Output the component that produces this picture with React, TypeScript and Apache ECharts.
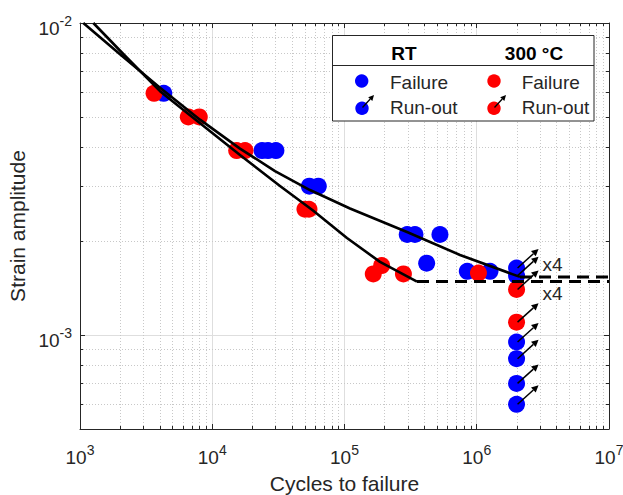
import React, { useEffect, useRef } from 'react';
import * as echarts from 'echarts';

// ---------- data ----------
const rtFailN = [4300, 23800, 26400, 30300, 54200, 63400, 298000, 341000, 527000, 418000, 848000, 1260000];
const rtFailS = [5.95e-3, 3.9e-3, 3.9e-3, 3.9e-3, 3.0e-3, 3.0e-3, 2.1e-3, 2.1e-3, 2.1e-3, 1.7e-3, 1.6e-3, 1.6e-3];

const htFailN = [3630, 6590, 7980, 15300, 17700, 50200, 53900, 165000, 191000, 279000, 1030000];
const htFailS = [5.95e-3, 5.0e-3, 5.0e-3, 3.9e-3, 3.9e-3, 2.53e-3, 2.53e-3, 1.57e-3, 1.67e-3, 1.57e-3, 1.58e-3];

const rtRunN = [2e6, 2e6, 2e6, 2e6, 2e6, 2e6];
const rtRunS = [1.64e-3, 1.55e-3, 9.5e-4, 8.4e-4, 7.0e-4, 6.0e-4];

const htRunN = [2e6, 2e6];
const htRunS = [1.4e-3, 1.1e-3];

// fitted strain-life curves
const rtCurveN = [1059, 2007, 4027, 8078, 16210, 29820, 54830, 110040, 296900, 746900, 2123000];
const rtCurveS = [1.0e-2, 7.94e-3, 6.205e-3, 4.901e-3, 3.959e-3, 3.354e-3, 2.916e-3, 2.544e-3, 2.14e-3, 1.806e-3, 1.536e-3];
const htCurveN = [1261, 2189, 4027, 6787, 16210, 32530, 57790, 104400, 185500, 353400];
const htCurveS = [1.0e-2, 7.853e-3, 6.047e-3, 5.066e-3, 3.773e-3, 3.003e-3, 2.507e-3, 2.047e-3, 1.716e-3, 1.484e-3];

// endurance limits (dashed)
const rtLimitN = [2123000, 1e7];
const rtLimitS = [1.536e-3, 1.536e-3];
const htLimitN = [353400, 1e7];
const htLimitS = [1.484e-3, 1.484e-3];

// multiplicity labels
const countN = [2e6, 2e6];
const countS = [1.64e-3, 1.4e-3];
const countText = ['x4', 'x4'];

// axis ranges / ticks
const X_MIN = 1e3;
const X_MAX = 1e7;
const Y_MIN = 5e-4;
const Y_MAX = 1e-2;
const xDecades = [1e3, 1e4, 1e5, 1e6];
const yDecades = [1e-4, 1e-3];
const minorMult = [2, 3, 4, 5, 6, 7, 8, 9];

// ---------- style ----------
const FONT = "'Liberation Sans', Arial, Helvetica, sans-serif";
const INK = '#262626';
const BLUE = '#0000ff';
const RED = '#ff0000';

const zip = (a: number[], b: number[]) => a.map((v, i) => [v, b[i]]);

const xMinor: number[] = [];
xDecades.forEach((d) => minorMult.forEach((m) => xMinor.push(d * m)));
const yMinor: number[] = [];
yDecades.forEach((d) => minorMult.forEach((m) => {
  const v = d * m;
  if (v > Y_MIN * 1.0001 && v < Y_MAX * 0.9999) yMinor.push(v);
}));

function supLabel(v: number) {
  const e = Math.log10(v);
  const r = Math.round(e);
  if (Math.abs(e - r) > 1e-6) return '';
  return `{b|10}{s|${r}}`;
}

const rich = {
  b: { fontSize: 19, lineHeight: 24, verticalAlign: 'bottom', fontFamily: FONT, color: INK },
  s: { fontSize: 14, lineHeight: 12, verticalAlign: 'top', fontFamily: FONT, color: INK },
};

function arrowChildren(x0: number, y0: number, dx: number, dy: number, head: number, hw: number, lw: number) {
  const L = Math.sqrt(dx * dx + dy * dy);
  const ux = dx / L;
  const uy = dy / L;
  const tx = x0 + dx;
  const ty = y0 + dy;
  const bx = tx - ux * head;
  const by = ty - uy * head;
  const px = -uy;
  const py = ux;
  return [
    { type: 'line', shape: { x1: x0, y1: y0, x2: bx, y2: by }, style: { stroke: '#000', lineWidth: lw } },
    {
      type: 'polygon',
      shape: { points: [[tx, ty], [bx + px * hw, by + py * hw], [bx - px * hw, by - py * hw]] },
      style: { fill: '#000' },
    },
  ];
}

export default function App() {
  const ref = useRef<HTMLDivElement>(null);

  useEffect(() => {
    if (!ref.current) return;
    const chart = echarts.init(ref.current, null, { renderer: 'svg' });

    const baseX = {
      type: 'log',
      logBase: 10,
      min: X_MIN,
      max: X_MAX,
      axisLine: { show: true, lineStyle: { color: INK, width: 1 } },
      axisTick: { show: true, inside: true, length: 5, lineStyle: { color: INK, width: 1 } },
    };
    const baseY = {
      type: 'log',
      logBase: 10,
      min: Y_MIN,
      max: Y_MAX,
      axisLine: { show: true, lineStyle: { color: INK, width: 1 } },
      axisTick: { show: true, inside: true, length: 5, lineStyle: { color: INK, width: 1 } },
    };

    const scatterBase = {
      type: 'scatter',
      symbol: 'circle',
      symbolSize: 17,
      silent: true,
      emphasis: { disabled: true },
    };

    const textStyle = (align: string) => ({
      font: `19px ${FONT}`,
      fill: INK,
      textAlign: align,
      align,
      textVerticalAlign: 'middle',
      verticalAlign: 'middle',
    });

    const curveBase = {
      type: 'line',
      z: 5,
      silent: true,
      symbol: 'none',
      showSymbol: false,
      smooth: false,
    };

    const legendChildren: any[] = [
      { type: 'rect', shape: { x: 332.5, y: 35.5, width: 261.5, height: 85.5 }, style: { fill: '#ffffff', stroke: INK, lineWidth: 1 } },
      { type: 'line', shape: { x1: 332.5, y1: 65.5, x2: 594, y2: 65.5 }, style: { stroke: INK, lineWidth: 1 } },
      { type: 'text', x: 404, y: 53, style: { text: 'RT', ...textStyle('center'), font: `bold 19px ${FONT}`, fill: '#000' } },
      { type: 'text', x: 534, y: 53, style: { text: '300 °C', ...textStyle('center'), font: `bold 19px ${FONT}`, fill: '#000' } },
      { type: 'circle', shape: { cx: 361.7, cy: 81, r: 6.7 }, style: { fill: BLUE } },
      { type: 'circle', shape: { cx: 362, cy: 108.3, r: 6.7 }, style: { fill: BLUE } },
      { type: 'circle', shape: { cx: 494, cy: 81, r: 6.7 }, style: { fill: RED } },
      { type: 'circle', shape: { cx: 494, cy: 108.3, r: 6.7 }, style: { fill: RED } },
      ...arrowChildren(362.5, 107.5, 11.5, -12.5, 5.5, 2.8, 1.3),
      ...arrowChildren(494.5, 107.5, 11.5, -12.5, 5.5, 2.8, 1.3),
      { type: 'text', x: 390, y: 82.5, style: { text: 'Failure', ...textStyle('left') } },
      { type: 'text', x: 390, y: 107.5, style: { text: 'Run-out', ...textStyle('left') } },
      { type: 'text', x: 521.7, y: 82.5, style: { text: 'Failure', ...textStyle('left') } },
      { type: 'text', x: 521.7, y: 107.5, style: { text: 'Run-out', ...textStyle('left') } },
    ].map((el, i) => ({ ...el, z: 100 + i }));

    const option: any = {
      animation: false,
      backgroundColor: '#ffffff',
      grid: { left: 80, top: 23, width: 529, height: 406, containLabel: false, outerBoundsMode: 'none' },
      xAxis: [
        {
          ...baseX,
          position: 'bottom',
          name: 'Cycles to failure',
          nameLocation: 'middle',
          nameGap: 44,
          nameTextStyle: { fontFamily: FONT, fontSize: 21, color: INK },
          axisLabel: { show: true, margin: 14, formatter: supLabel, rich },
          splitLine: { show: true, lineStyle: { color: '#dedede', width: 1, type: 'solid' } },
        },
        {
          ...baseX,
          position: 'top',
          axisLabel: { show: false },
          splitLine: { show: false },
        },
      ],
      yAxis: [
        {
          ...baseY,
          position: 'left',
          name: 'Strain amplitude',
          nameLocation: 'middle',
          nameGap: 43,
          nameTextStyle: { fontFamily: FONT, fontSize: 21, color: INK },
          axisLabel: { show: true, margin: 8, formatter: supLabel, rich, padding: [6, 0, 0, 0] },
          splitLine: { show: true, lineStyle: { color: '#dedede', width: 1, type: 'solid' } },
        },
        {
          ...baseY,
          position: 'right',
          axisLabel: { show: false },
          splitLine: { show: false },
        },
      ],
      series: [
        {
          type: 'custom',
          name: 'xMinorGrid',
          z: 0,
          silent: true,
          data: xMinor.map((v) => [v, Y_MIN]),
          renderItem: (params: any, api: any) => {
            const cs = params.coordSys;
            const x = Math.round(api.coord([api.value(0), Y_MIN])[0]) + 0.5;
            const top = cs.y;
            const bot = cs.y + cs.height;
            return {
              type: 'group',
              children: [
                { type: 'line', shape: { x1: x, y1: top, x2: x, y2: bot }, style: { stroke: '#c8c8c8', lineWidth: 1, lineDash: [1, 2] } },
                { type: 'line', shape: { x1: x, y1: bot, x2: x, y2: bot - 3 }, style: { stroke: INK, lineWidth: 1 } },
                { type: 'line', shape: { x1: x, y1: top, x2: x, y2: top + 3 }, style: { stroke: INK, lineWidth: 1 } },
              ],
            };
          },
        },
        {
          type: 'custom',
          name: 'yMinorGrid',
          z: 0,
          silent: true,
          data: yMinor.map((v) => [X_MIN, v]),
          renderItem: (params: any, api: any) => {
            const cs = params.coordSys;
            const y = Math.round(api.coord([X_MIN, api.value(1)])[1]) + 0.5;
            const l = cs.x;
            const r = cs.x + cs.width;
            return {
              type: 'group',
              children: [
                { type: 'line', shape: { x1: l, y1: y, x2: r, y2: y }, style: { stroke: '#c8c8c8', lineWidth: 1, lineDash: [1, 2] } },
                { type: 'line', shape: { x1: l, y1: y, x2: l + 3, y2: y }, style: { stroke: INK, lineWidth: 1 } },
                { type: 'line', shape: { x1: r, y1: y, x2: r - 3, y2: y }, style: { stroke: INK, lineWidth: 1 } },
              ],
            };
          },
        },
        { ...scatterBase, name: 'RT failure', z: 2, data: zip(rtFailN, rtFailS), itemStyle: { color: BLUE, opacity: 1 } },
        { ...scatterBase, name: 'RT run-out', z: 2, data: zip(rtRunN, rtRunS), itemStyle: { color: BLUE, opacity: 1 } },
        { ...scatterBase, name: '300 failure', z: 3, data: zip(htFailN, htFailS), itemStyle: { color: RED, opacity: 1 } },
        { ...scatterBase, name: '300 run-out', z: 3, data: zip(htRunN, htRunS), itemStyle: { color: RED, opacity: 1 } },
        { ...curveBase, name: 'RT fit', data: zip(rtCurveN, rtCurveS), lineStyle: { color: '#000', width: 2.6, join: 'round' } },
        { ...curveBase, name: '300 fit', data: zip(htCurveN, htCurveS), lineStyle: { color: '#000', width: 2.6, join: 'round' } },
        { ...curveBase, name: 'RT limit', data: zip(rtLimitN, rtLimitS), lineStyle: { color: '#000', width: 3, type: [12, 7] } },
        { ...curveBase, name: '300 limit', data: zip(htLimitN, htLimitS), lineStyle: { color: '#000', width: 3, type: [12, 7] } },
        {
          type: 'custom',
          name: 'run-out arrows',
          z: 6,
          silent: true,
          data: zip([...rtRunN, ...htRunN], [...rtRunS, ...htRunS]),
          renderItem: (_params: any, api: any) => {
            const p = api.coord([api.value(0), api.value(1)]);
            return { type: 'group', children: arrowChildren(p[0] + 1, p[1], 21, -19, 7, 3.5, 1.5) };
          },
        },
        {
          type: 'custom',
          name: 'counts',
          z: 7,
          silent: true,
          data: zip(countN, countS),
          renderItem: (params: any, api: any) => {
            const p = api.coord([api.value(0), api.value(1)]);
            const i = params.dataIndex;
            return {
              type: 'text',
              x: p[0] + 36,
              y: p[1] + (i === 0 ? -4 : 4),
              style: { text: countText[i], ...textStyle('center') },
            };
          },
        },
      ],
      graphic: [
        {
          type: 'group',
          z: 100,
          children: legendChildren,
        },
      ],
    };

    chart.setOption(option);
    return () => chart.dispose();
  }, []);

  return (
    <div
      ref={ref}
      style={{ position: 'absolute', left: 0, top: 0, width: 623, height: 495, background: '#fff' }}
    />
  );
}
